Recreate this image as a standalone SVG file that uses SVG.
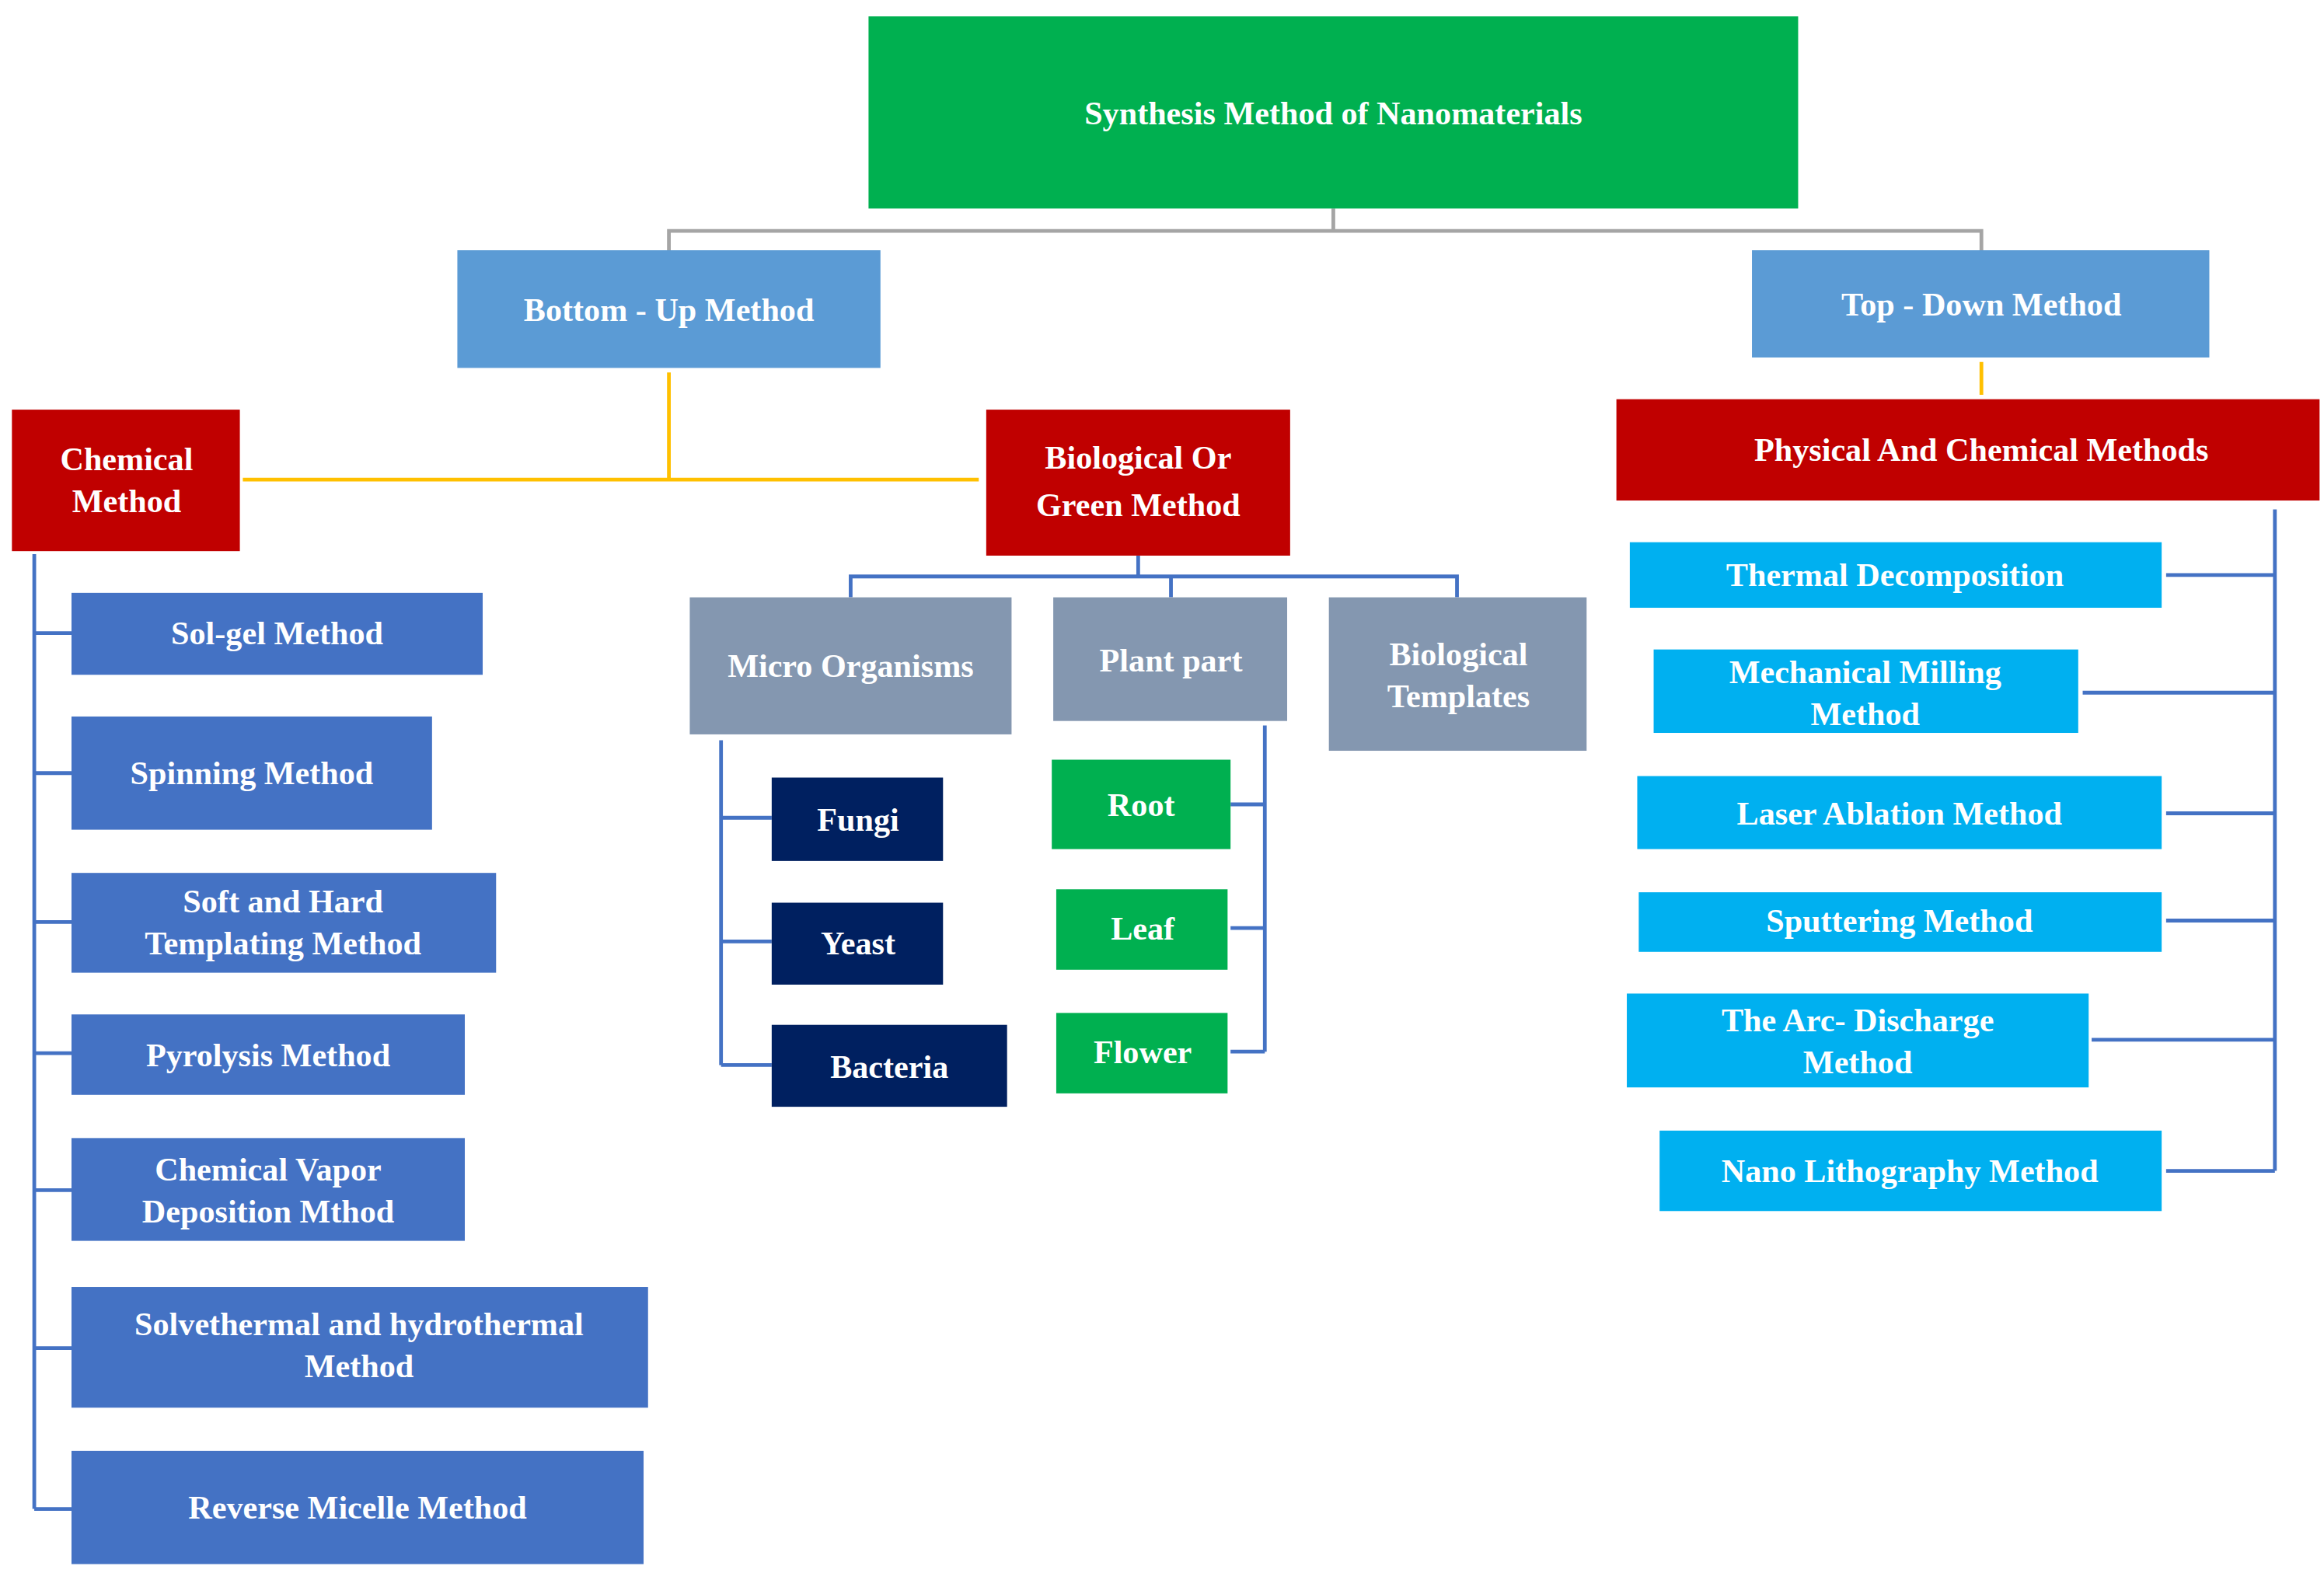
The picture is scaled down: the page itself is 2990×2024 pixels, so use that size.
<svg xmlns="http://www.w3.org/2000/svg" width="2990" height="2024" viewBox="0 0 2990 2024">
<style>
text{font-family:"Liberation Serif","Times New Roman",serif;font-weight:bold;fill:#fff;text-anchor:middle;dominant-baseline:central;font-size:22px}
.g{fill:#00B050}.lb{fill:#5B9BD5}.r{fill:#C00000}.b{fill:#4472C4}.gr{fill:#8497B0}.n{fill:#002060}.c{fill:#00B0F0}
.ln{fill:none;stroke-width:2.5}
</style>
<rect width="2990" height="2024" fill="#fff"/>
<g transform="scale(1.9167)">
<g id="connectors">
<path class="ln" stroke="#A5A5A5" d="M895,140V155M449,168V155H1330V168"/>
<path class="ln" stroke="#FFC000" d="M449,250V323M163,322H657M1330,243V265"/>
<path class="ln" stroke="#4472C4" d="M23,372V1013M23,425H48M23,519H48M23,619H48M23,707H48M23,799H48M23,905H48M23,1013H48"/>
<path class="ln" stroke="#4472C4" d="M764,373V387M571,401V387H978V401M786,387V401"/>
<path class="ln" stroke="#4472C4" d="M484,497V715M484,549H518M484,632H518M484,715H518"/>
<path class="ln" stroke="#4472C4" d="M849,487V706M826,540H849M826,623H849M826,706H849"/>
<path class="ln" stroke="#4472C4" d="M1527,342V786M1454,386H1527M1398,465H1527M1454,546H1527M1454,618H1527M1404,698H1527M1454,786H1527"/>
</g>
<g id="title"><rect class="g" x="583" y="11" width="624" height="129"/><text x="895" y="76" font-size="28">Synthesis Method  of Nanomaterials</text></g>
<g id="bottomup"><rect class="lb" x="307" y="168" width="284" height="79"/><text x="449" y="208">Bottom -  Up Method</text></g>
<g id="topdown"><rect class="lb" x="1176" y="168" width="307" height="72"/><text x="1330" y="204">Top - Down Method</text></g>
<g id="chemical"><rect class="r" x="8" y="275" width="153" height="95"/><text x="85" y="308">Chemical</text><text x="85" y="336">Method</text></g>
<g id="biological"><rect class="r" x="662" y="275" width="204" height="98"/><text x="764" y="307" font-size="28">Biological Or</text><text x="764" y="339" font-size="28">Green Method</text></g>
<g id="physical"><rect class="r" x="1085" y="268" width="472" height="68"/><text x="1330" y="302">Physical And  Chemical Methods</text></g>
<g id="solgel"><rect class="b" x="48" y="398" width="276" height="55"/><text x="186" y="425">Sol-gel Method</text></g>
<g id="spinning"><rect class="b" x="48" y="481" width="242" height="76"/><text x="169" y="519">Spinning   Method</text></g>
<g id="softhard"><rect class="b" x="48" y="586" width="285" height="67"/><text x="190" y="605">Soft and  Hard</text><text x="190" y="633">Templating  Method</text></g>
<g id="pyrolysis"><rect class="b" x="48" y="681" width="264" height="54"/><text x="180" y="708">Pyrolysis Method</text></g>
<g id="cvd"><rect class="b" x="48" y="764" width="264" height="69"/><text x="180" y="785">Chemical  Vapor</text><text x="180" y="813">Deposition  Mthod</text></g>
<g id="solvo"><rect class="b" x="48" y="864" width="387" height="81"/><text x="241" y="889">Solvethermal  and   hydrothermal</text><text x="241" y="917">Method</text></g>
<g id="micelle"><rect class="b" x="48" y="974" width="384" height="76"/><text x="240" y="1012">Reverse Micelle Method</text></g>
<g id="micro"><rect class="gr" x="463" y="401" width="216" height="92"/><text x="571" y="447">Micro  Organisms</text></g>
<g id="plant"><rect class="gr" x="707" y="401" width="157" height="83"/><text x="786" y="443">Plant  part</text></g>
<g id="templates"><rect class="gr" x="892" y="401" width="173" height="103"/><text x="979" y="439">Biological</text><text x="979" y="467">Templates</text></g>
<g id="fungi"><rect class="n" x="518" y="522" width="115" height="56"/><text x="576" y="550">Fungi</text></g>
<g id="yeast"><rect class="n" x="518" y="606" width="115" height="55"/><text x="576" y="633">Yeast</text></g>
<g id="bacteria"><rect class="n" x="518" y="688" width="158" height="55"/><text x="597" y="716">Bacteria</text></g>
<g id="root"><rect class="g" x="706" y="510" width="120" height="60"/><text x="766" y="540">Root</text></g>
<g id="leaf"><rect class="g" x="709" y="597" width="115" height="54"/><text x="767" y="623">Leaf</text></g>
<g id="flower"><rect class="g" x="709" y="680" width="115" height="54"/><text x="767" y="706">Flower</text></g>
<g id="thermal"><rect class="c" x="1094" y="364" width="357" height="44"/><text x="1272" y="386">Thermal  Decomposition</text></g>
<g id="milling"><rect class="c" x="1110" y="436" width="285" height="56"/><text x="1252" y="451">Mechanical  Milling</text><text x="1252" y="479">Method</text></g>
<g id="laser"><rect class="c" x="1099" y="521" width="352" height="49"/><text x="1275" y="546">Laser Ablation  Method</text></g>
<g id="sputter"><rect class="c" x="1100" y="599" width="351" height="40"/><text x="1275" y="618">Sputtering  Method</text></g>
<g id="arc"><rect class="c" x="1092" y="667" width="310" height="63"/><text x="1247" y="685">The Arc- Discharge</text><text x="1247" y="713">Method</text></g>
<g id="nano"><rect class="c" x="1114" y="759" width="337" height="54"/><text x="1282" y="786">Nano Lithography  Method</text></g>
</g>
</svg>
